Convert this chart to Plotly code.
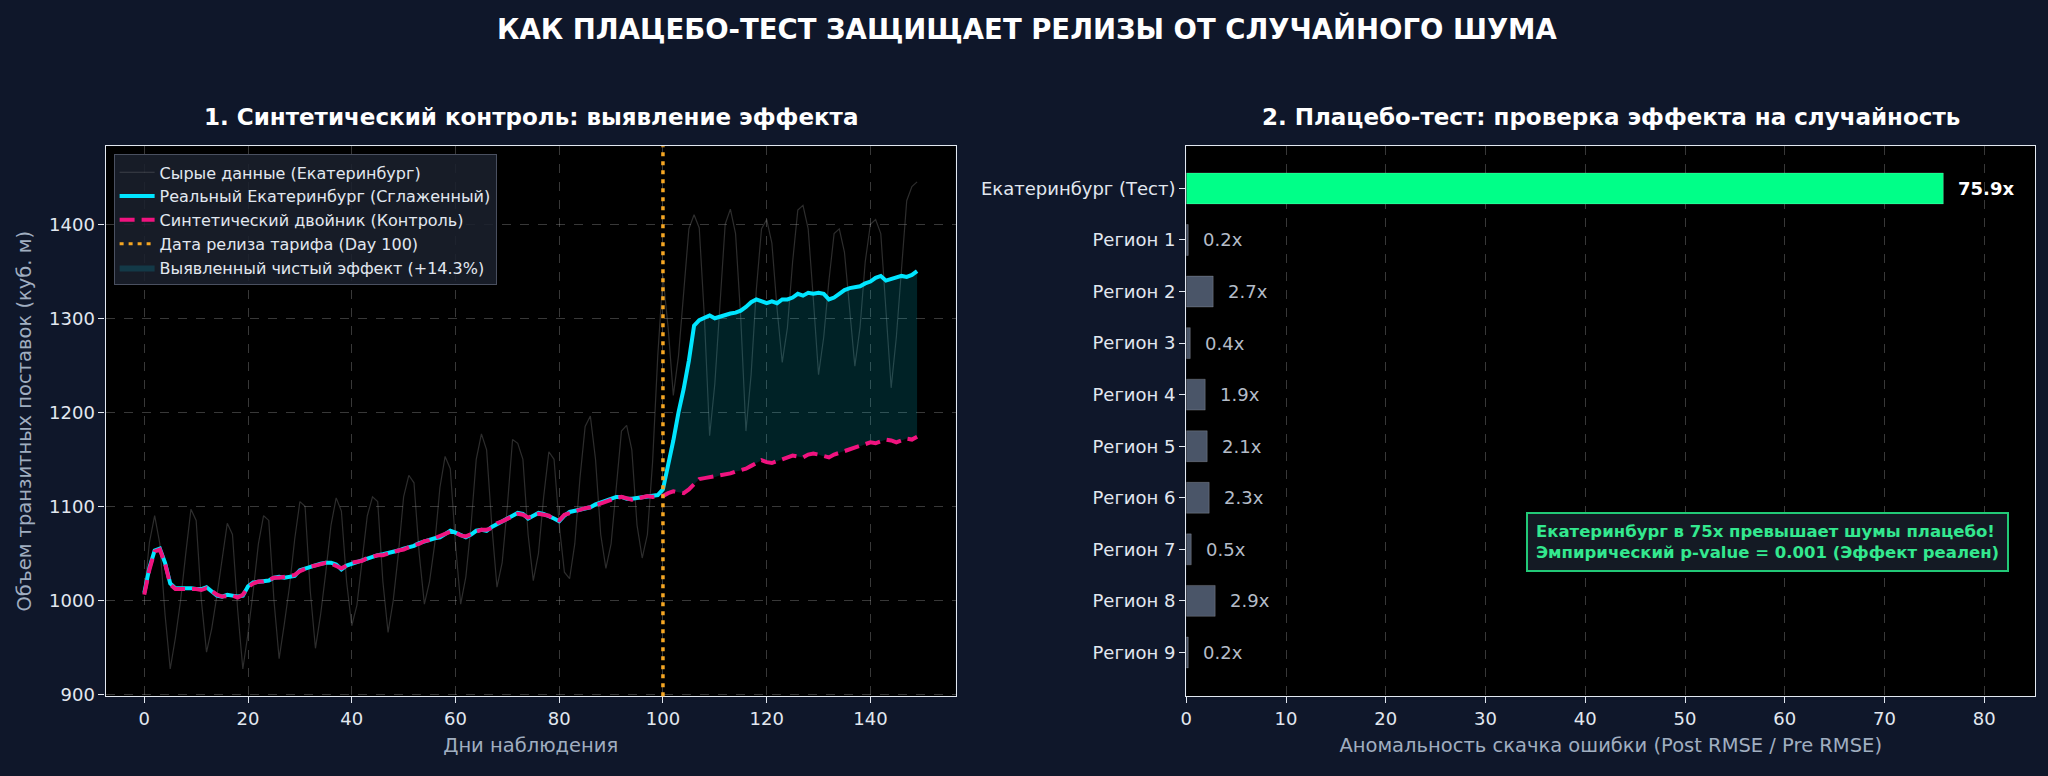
import plotly.graph_objects as go

# Данные: 150 дней наблюдения, релиз на 100-й день
days = list(range(150))
release_day = 100

raw_ekb = [
    1008, 1062, 1090, 1060, 985, 927, 960, 1000, 1050, 1097,
    1085, 1000, 945, 970, 1005, 1045, 1082, 1070, 990, 927,
    965, 1010, 1060, 1090, 1085, 1000, 938, 975, 1015, 1065,
    1105, 1100, 1010, 949, 985, 1030, 1080, 1109, 1095, 1020,
    973, 995, 1040, 1090, 1110, 1105, 1020, 966, 1000, 1050,
    1110, 1133, 1125, 1050, 996, 1020, 1060, 1120, 1153, 1140,
    1060, 996, 1025, 1080, 1150, 1177, 1160, 1080, 1014, 1040,
    1100, 1171, 1167, 1150, 1070, 1021, 1050, 1110, 1158, 1150,
    1080, 1030, 1023, 1060, 1130, 1185, 1196, 1150, 1070, 1034,
    1060, 1120, 1180, 1186, 1160, 1080, 1045, 1070, 1147, 1260,
    1345, 1290, 1218, 1260, 1330, 1395, 1410, 1396, 1300, 1175,
    1230, 1320, 1400, 1416, 1390, 1300, 1180, 1240, 1330, 1395,
    1405, 1380, 1310, 1253, 1290, 1360, 1415, 1420, 1395, 1320,
    1240, 1280, 1340, 1390, 1395, 1370, 1310, 1249, 1290, 1360,
    1400, 1405, 1390, 1310, 1226, 1280, 1350, 1425, 1440, 1445,
]

real_smooth = [
    1008, 1035, 1053, 1055, 1040, 1018, 1013, 1013, 1014, 1013,
    1012, 1012, 1014, 1010, 1005, 1004, 1006, 1005, 1004, 1005,
    1015, 1019, 1020, 1021, 1021, 1024, 1025, 1024, 1025, 1026,
    1032, 1034, 1035, 1037, 1039, 1040, 1040, 1038, 1033, 1037,
    1039, 1041, 1043, 1045, 1046, 1048, 1049, 1050, 1051, 1053,
    1055, 1056, 1058, 1061, 1063, 1065, 1066, 1067, 1071, 1074,
    1072, 1070, 1067, 1070, 1074, 1075, 1074, 1078, 1081, 1085,
    1088, 1090, 1093, 1092, 1087, 1090, 1093, 1092, 1090, 1087,
    1084, 1090, 1094, 1095, 1096, 1097, 1099, 1102, 1104, 1106,
    1109, 1110, 1110, 1108, 1108, 1109, 1109, 1110, 1111, 1112,
    1118, 1142, 1170, 1200, 1225, 1255, 1292, 1298, 1300, 1303,
    1300, 1302, 1303, 1305, 1306, 1308, 1312, 1317, 1320, 1318,
    1316, 1318, 1316, 1320, 1320, 1322, 1326, 1324, 1327, 1326,
    1327, 1326, 1320, 1322, 1326, 1330, 1332, 1333, 1334, 1337,
    1339, 1343, 1345, 1340, 1342, 1344, 1345, 1344, 1346, 1350,
]

synthetic = [
    1006, 1033, 1052, 1054, 1039, 1017, 1012, 1012, 1013, 1013,
    1012, 1011, 1013, 1010, 1006, 1004, 1005, 1005, 1003, 1006,
    1014, 1018, 1020, 1020, 1022, 1024, 1024, 1025, 1025, 1027,
    1031, 1034, 1036, 1037, 1038, 1040, 1039, 1037, 1034, 1037,
    1040, 1041, 1042, 1045, 1047, 1048, 1048, 1050, 1052, 1053,
    1054, 1057, 1059, 1060, 1063, 1064, 1066, 1068, 1070, 1073,
    1072, 1069, 1068, 1071, 1073, 1075, 1075, 1077, 1082, 1084,
    1087, 1090, 1092, 1091, 1088, 1090, 1092, 1091, 1090, 1086,
    1085, 1091, 1093, 1095, 1097, 1098, 1099, 1101, 1104, 1105,
    1108, 1109, 1110, 1109, 1107, 1108, 1110, 1111, 1110, 1111,
    1111, 1114, 1116, 1115, 1114, 1118, 1124, 1129, 1130, 1131,
    1131, 1133, 1134, 1135, 1137, 1138, 1140, 1143, 1146, 1149,
    1147, 1146, 1148, 1150, 1152, 1154, 1153, 1152, 1155, 1156,
    1155, 1153, 1152, 1155, 1157, 1159, 1161, 1163, 1164, 1166,
    1168, 1167, 1169, 1171, 1170, 1168, 1170, 1172, 1171, 1174,
]

# Плацебо-тест: отношение Post RMSE / Pre RMSE
regions = ["Екатеринбург (Тест)", "Регион 1", "Регион 2", "Регион 3", "Регион 4",
           "Регион 5", "Регион 6", "Регион 7", "Регион 8", "Регион 9"]
rmse_ratio = [75.9, 0.2, 2.7, 0.4, 1.9, 2.1, 2.3, 0.5, 2.9, 0.2]

BG = "#0f172a"
FONT = "DejaVu Sans"
TICK_C = "#e2e8f0"
LABEL_C = "#a0aec0"
GRID_C = "rgba(255,255,255,0.22)"
CYAN = "#00e5ff"
PINK = "#f0137f"
ORANGE = "#f5a623"
GREEN = "#00ff88"
SLATE = "#4a5568"

fig = go.Figure()

# --- левый график ---
fig.add_trace(go.Scatter(
    x=days, y=raw_ekb, mode="lines", name="Сырые данные (Екатеринбург)",
    line=dict(color="rgba(150,150,150,0.3)", width=1.2), legendrank=1,
    xaxis="x", yaxis="y"))

post_days = days[release_day:]
fig.add_trace(go.Scatter(
    x=post_days, y=synthetic[release_day:], mode="lines",
    line=dict(width=0, color="rgba(0,0,0,0)"), showlegend=False, hoverinfo="skip",
    xaxis="x", yaxis="y"))
fig.add_trace(go.Scatter(
    x=post_days, y=real_smooth[release_day:], mode="lines", fill="tonexty",
    fillcolor="rgba(0,229,255,0.15)", line=dict(width=0, color="rgba(0,229,255,0.15)"),
    name="Выявленный чистый эффект (+14.3%)", legendrank=5,
    xaxis="x", yaxis="y"))

fig.add_trace(go.Scatter(
    x=days, y=real_smooth, mode="lines", name="Реальный Екатеринбург (Сглаженный)",
    line=dict(color=CYAN, width=4), legendrank=2, xaxis="x", yaxis="y"))
fig.add_trace(go.Scatter(
    x=days, y=synthetic, mode="lines", name="Синтетический двойник (Контроль)",
    line=dict(color=PINK, width=4, dash="15px,7px"), legendrank=3,
    xaxis="x", yaxis="y"))
fig.add_trace(go.Scatter(
    x=[None], y=[None], mode="lines", name="Дата релиза тарифа (Day 100)",
    line=dict(color=ORANGE, width=3, dash="4px,5px"), legendrank=4,
    xaxis="x", yaxis="y"))

fig.add_shape(type="line", xref="x", yref="y domain", x0=release_day, x1=release_day,
              y0=0, y1=1, line=dict(color=ORANGE, width=3.5, dash="4px,5px"))

# --- правый график ---
bar_colors = [GREEN] + [SLATE] * (len(regions) - 1)
fig.add_trace(go.Bar(
    x=rmse_ratio, y=regions, orientation="h", width=0.6,
    marker=dict(color=bar_colors, line=dict(color="rgba(255,255,255,0.18)", width=1)),
    showlegend=False, xaxis="x2", yaxis="y2"))

for i, (r, v) in enumerate(zip(regions, rmse_ratio)):
    if i == 0:
        txt = f"<b>{v}x</b>"
        col = "#ffffff"
    else:
        txt = f"{v}x"
        col = "#b4bcc8"
    fig.add_annotation(x=v, y=r, xref="x2", yref="y2", text=txt, showarrow=False,
                       xanchor="left", xshift=13, font=dict(size=18, color=col, family=FONT))

fig.add_annotation(
    xref="paper", yref="paper", x=0.8626, y=0.294, xanchor="center", yanchor="middle",
    text="<b>Екатеринбург в 75x превышает шумы плацебо!<br>"
         "Эмпирический p-value = 0.001 (Эффект реален)</b>",
    showarrow=False, align="left", font=dict(size=16.5, color="#33e88f", family=FONT),
    bgcolor="#141a24", bordercolor="#22c977", borderwidth=2, borderpad=8)

# заголовки
fig.add_annotation(xref="paper", yref="paper", x=0.5, y=0.9626, showarrow=False,
                   xanchor="center", yanchor="middle",
                   text="<b>КАК ПЛАЦЕБО-ТЕСТ ЗАЩИЩАЕТ РЕЛИЗЫ ОТ СЛУЧАЙНОГО ШУМА</b>",
                   font=dict(size=27.5, color="#ffffff", family=FONT))
fig.add_annotation(xref="paper", yref="paper", x=(0.0488 + 0.4651) / 2, y=0.848,
                   showarrow=False, xanchor="center", yanchor="middle",
                   text="<b>1. Синтетический контроль: выявление эффекта</b>",
                   font=dict(size=23, color="#ffffff", family=FONT))
fig.add_annotation(xref="paper", yref="paper", x=(0.578 + 0.9937) / 2, y=0.848,
                   showarrow=False, xanchor="center", yanchor="middle",
                   text="<b>2. Плацебо-тест: проверка эффекта на случайность</b>",
                   font=dict(size=23, color="#ffffff", family=FONT))

axis_common = dict(
    showline=True, linecolor="#e2e8f0", linewidth=1.3, mirror=True,
    ticks="outside", ticklen=6, tickcolor="#e2e8f0",
    tickfont=dict(size=18, color=TICK_C, family=FONT),
    gridcolor=GRID_C, griddash="dash", gridwidth=1, zeroline=False,
)

fig.update_layout(
    width=2048, height=776,
    paper_bgcolor=BG, plot_bgcolor="#000000",
    margin=dict(l=0, r=0, t=0, b=0),
    font=dict(family=FONT, color=TICK_C),
    bargap=0.4,
    xaxis=dict(domain=[0.0488, 0.4651], range=[-7.45, 156.45], dtick=20, showgrid=True,
               title=dict(text="Дни наблюдения", font=dict(size=19.5, color=LABEL_C), standoff=10),
               anchor="y", **axis_common),
    yaxis=dict(domain=[0.0934, 0.8097], range=[898, 1483], dtick=100, showgrid=True,
               title=dict(text="Объем транзитных поставок (куб. м)",
                          font=dict(size=19.5, color=LABEL_C), standoff=12),
               anchor="x", **axis_common),
    xaxis2=dict(domain=[0.578, 0.9937], range=[0, 85.1], dtick=10, showgrid=True,
                title=dict(text="Аномальность скачка ошибки (Post RMSE / Pre RMSE)",
                           font=dict(size=19.5, color=LABEL_C), standoff=10),
                anchor="y2", **axis_common),
    yaxis2=dict(domain=[0.0934, 0.8097], range=[9.85, -0.82], showgrid=False,
                anchor="x2", type="category", **axis_common),
    legend=dict(x=0.0527, y=0.799, xanchor="left", yanchor="top",
                bgcolor="rgba(26,32,44,0.88)", bordercolor="#4a5060", borderwidth=1,
                font=dict(size=16, color=TICK_C, family=FONT), itemwidth=35,
                traceorder="normal"),
    showlegend=True,
)

# убираем отступ страницы и панель инструментов
fig.write_html("out.html", config={"displayModeBar": False},
               post_script="document.body.style.margin='0';"
                           "document.body.style.background='#0f172a';")
